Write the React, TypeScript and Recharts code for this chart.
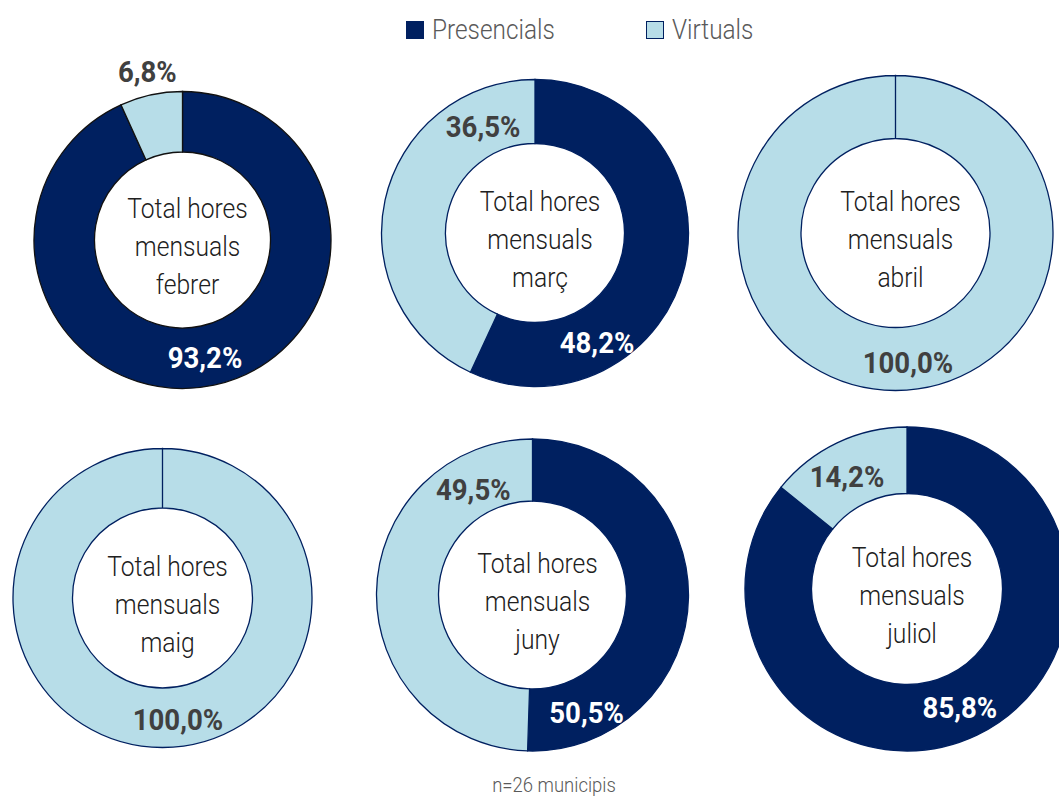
import { PieChart, Pie, Cell, Label } from 'recharts';

const months = ['febrer', 'març', 'abril', 'maig', 'juny', 'juliol'];
const presencials = [93.2, 48.2, 0, 0, 50.5, 85.8];
const virtuals = [6.8, 36.5, 100, 100, 49.5, 14.2];
const seriesNames = ['Presencials', 'Virtuals'];
const centerTitle = ['Total hores', 'mensuals'];
const footnote = 'n=26 municipis';

const DARK = '#002060';
const LIGHT = '#b7dde8';
const FONT = "Roboto, 'Noto Sans', sans-serif";
// no condensed face is installed, so the text is squeezed horizontally
const SQUEEZE = 0.88;

// where each donut sits, and where its labels were dragged to (angle in degrees, radius in px)
const layout = [
  { cx: 182.5, cy: 240, inner: 88, outer: 148.5, stroke: '#111', labels: [[-79.2, 120], [101.8, 172]] },
  { cx: 535, cy: 233, inner: 89.5, outer: 153.5, stroke: DARK, labels: [[-60.5, 126], [116.1, 118]] },
  { cx: 895.5, cy: 233, inner: 94.5, outer: 157.5, stroke: DARK, labels: [null, [-84.5, 130]] },
  { cx: 162.5, cy: 598, inner: 90, outer: 149.5, stroke: DARK, labels: [null, [-82.8, 123]] },
  { cx: 532.5, cy: 595, inner: 94, outer: 156, stroke: DARK, labels: [[-65.2, 129], [119.3, 121]] },
  { cx: 907, cy: 589, inner: 95.5, outer: 162, stroke: DARK, labels: [[-66, 130], [118.2, 127]] },
];

const fmt = (v: number) => v.toFixed(1).replace('.', ',') + '%';

const makeLabel = (pos: (number[] | null)[]) => (props: any) => {
  const { cx, cy, index, value } = props;
  const p = pos[index];
  if (!p || !value) return null;
  const rad = (p[0] * Math.PI) / 180;
  const x = cx + p[1] * Math.cos(rad);
  const y = cy - p[1] * Math.sin(rad);
  return (
    <g transform={`translate(${x},${y}) scale(0.92,1)`}>
      <text
        x={0}
        y={0}
        textAnchor="middle"
        dominantBaseline="central"
        fill={index === 0 ? '#ffffff' : '#404040'}
        fontFamily={FONT}
        fontWeight={700}
        fontSize={30}
      >
        {fmt(value)}
      </text>
    </g>
  );
};

const CenterText = (month: string, cx: number, cy: number) => () => {
  const lines = [...centerTitle, month];
  return (
    <g transform={`translate(${cx + 5},${cy}) scale(${SQUEEZE},1)`}>
      <text textAnchor="middle" fill="#202020" fontFamily={FONT} fontWeight={300} fontSize={28}>
        {lines.map((l, i) => (
          <tspan key={l} x={0} y={-22 + i * 38}>
            {l}
          </tspan>
        ))}
      </text>
    </g>
  );
};

export default function App() {
  return (
    <div style={{ position: 'absolute', left: 0, top: 0, width: 1059, height: 797, background: '#fff', overflow: 'hidden' }}>
      <PieChart width={1059} height={797} margin={{ top: 0, right: 0, bottom: 0, left: 0 }}>
        {months.map((m, i) => {
          const l = layout[i];
          const data = [
            { name: seriesNames[0], value: presencials[i] },
            { name: seriesNames[1], value: virtuals[i] },
          ];
          return (
            <Pie
              key={m}
              data={data}
              dataKey="value"
              cx={l.cx}
              cy={l.cy}
              innerRadius={l.inner}
              outerRadius={l.outer}
              startAngle={90}
              endAngle={-270}
              stroke={l.stroke}
              strokeWidth={1.3}
              label={makeLabel(l.labels)}
              labelLine={false}
              isAnimationActive={false}
            >
              <Cell fill={DARK} />
              <Cell fill={LIGHT} />
              <Label position="center" content={CenterText(m, l.cx, l.cy)} />
            </Pie>
          );
        })}
      </PieChart>
      <div
        style={{
          position: 'absolute',
          top: 13,
          left: 406,
          display: 'flex',
          fontFamily: FONT,
          fontWeight: 300,
          fontSize: 28,
          color: '#595959',
          lineHeight: '34px',
        }}
      >
        {seriesNames.map((s, i) => (
          <div key={s} style={{ display: 'flex', alignItems: 'center', width: i === 0 ? 240 : 'auto' }}>
            <span
              style={{
                display: 'inline-block',
                width: i === 0 ? 18 : 16,
                height: i === 0 ? 18 : 16,
                background: i === 0 ? DARK : LIGHT,
                border: i === 0 ? 'none' : `1px solid ${DARK}`,
                marginRight: 8,
              }}
            />
            <span style={{ display: 'inline-block', transform: 'scaleX(0.87)', transformOrigin: 'left center' }}>{s}</span>
          </div>
        ))}
      </div>
      <div
        style={{
          position: 'absolute',
          top: 773,
          left: 554,
          fontFamily: FONT,
          fontWeight: 300,
          fontSize: 21,
          color: '#595959',
          whiteSpace: 'nowrap',
          transform: 'translateX(-50%) scaleX(0.88)',
        }}
      >
        {footnote}
      </div>
    </div>
  );
}
